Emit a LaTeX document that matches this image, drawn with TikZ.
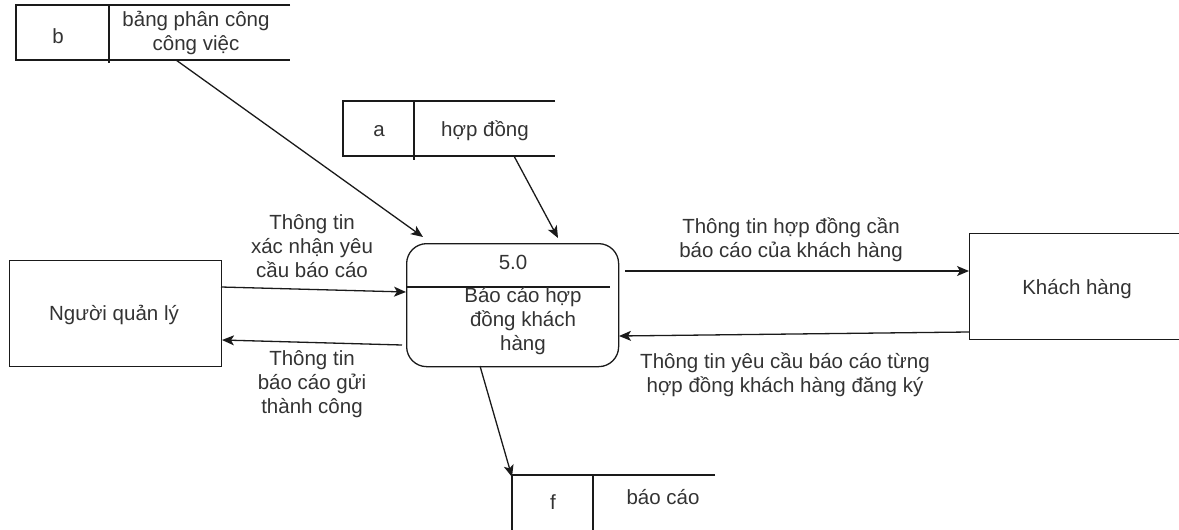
\documentclass[tikz,border=0pt]{standalone}
\usepackage{fontspec}
\setmainfont{Liberation Sans}
\usetikzlibrary{arrows.meta}
\definecolor{txt}{HTML}{333333}
\definecolor{ln}{HTML}{1A1A1A}
\tikzset{
  lbl/.style={text=txt,font=\fontsize{20.5}{24}\selectfont,align=center,inner sep=0pt},
  flow/.style={draw=ln,line width=1.3pt,-{Stealth[length=12pt,width=10pt,inset=3pt]}},
  boxline/.style={draw=ln,line width=1.3pt},
}
\begin{document}
\begin{tikzpicture}[x=1pt,y=-1pt]
\useasboundingbox (0,0) rectangle (1179,530);
% external entities
\node (mgr) [boxline,minimum width=212pt,minimum height=106pt,inner sep=0pt,anchor=north west] at (9,260) {};
\node [lbl] at (114,315) {Người quản lý};
\node (cust) [boxline,minimum width=220pt,minimum height=106pt,inner sep=0pt,anchor=north west] at (969,233) {};
\node [lbl] at (1077,289) {Khách hàng};
% process
\node (proc) [boxline,rounded corners=20pt,minimum width=212pt,minimum height=123pt,inner sep=0pt,anchor=north west] at (406,243) {};
\coordinate (pdl) at (406,287);
\coordinate (pdr) at (610,287);
\draw[boxline] (pdl) -- (pdr);
\node [lbl] at (513,262) {5.0};
\node [lbl] at (523,321) {Báo cáo hợp\\đồng khách\\hàng};
% store b
\coordinate (b1) at (16,5); \coordinate (b2) at (290,5);
\coordinate (b3) at (16,60); \coordinate (b4) at (290,60);
\coordinate (bd1) at (109,5); \coordinate (bd2) at (109,63);
\draw[boxline] (b2) -- (b1) -- (b3) -- (b4);
\draw[boxline] (bd1) -- (bd2);
\node (sb) [lbl] at (58,36) {b};
\node (sbt) [lbl] at (196,33) {bảng phân công\\công việc};
% store a
\coordinate (a1) at (343,101); \coordinate (a2) at (555,101);
\coordinate (a3) at (343,156); \coordinate (a4) at (555,156);
\coordinate (ad1) at (414,101); \coordinate (ad2) at (414,160);
\draw[boxline] (a2) -- (a1) -- (a3) -- (a4);
\draw[boxline] (ad1) -- (ad2);
\node (sa) [lbl] at (379,131) {a};
\node (sat) [lbl] at (485,131) {hợp đồng};
% store f
\coordinate (f1) at (512,475); \coordinate (f2) at (715,475);
\coordinate (f3) at (512,533); \coordinate (f4) at (715,533);
\coordinate (fd1) at (593,475); \coordinate (fd2) at (593,533);
\draw[boxline] (f2) -- (f1) -- (f3) -- (f4);
\draw[boxline] (fd1) -- (fd2);
\node (sf) [lbl] at (553,502) {f};
\node (sft) [lbl] at (663,497) {báo cáo};
% connector endpoints
\coordinate (bout) at (176,60);
\coordinate (bin) at (423,237);
\coordinate (aout) at (514,156);
\coordinate (ain) at (558,238);
\coordinate (m1) at (221,287);
\coordinate (p1) at (406,292);
\coordinate (p2) at (402,345);
\coordinate (m2) at (222,340);
\coordinate (p3) at (625,271);
\coordinate (c1) at (969,271);
\coordinate (c2) at (969,332);
\coordinate (p4) at (619,336);
\coordinate (p5) at (480,366);
\coordinate (fin) at (512,477);
% flows
\draw[flow] (bout) -- (bin);
\draw[flow] (aout) -- (ain);
\draw[flow] (m1) -- (p1);
\draw[flow] (p2) -- (m2);
\draw[flow] (p3) -- (c1);
\draw[flow] (c2) -- (p4);
\draw[flow] (p5) -- (fin);
% labels
\node [lbl] at (312,246) {Thông tin\\xác nhận yêu\\cầu báo cáo};
\node [lbl] at (312,384) {Thông tin\\báo cáo gửi\\thành công};
\node [lbl] at (791,240) {Thông tin hợp đồng cần\\báo cáo của khách hàng};
\node [lbl] at (785,375) {Thông tin yêu cầu báo cáo từng\\hợp đồng khách hàng đăng ký};
\end{tikzpicture}
\end{document}
